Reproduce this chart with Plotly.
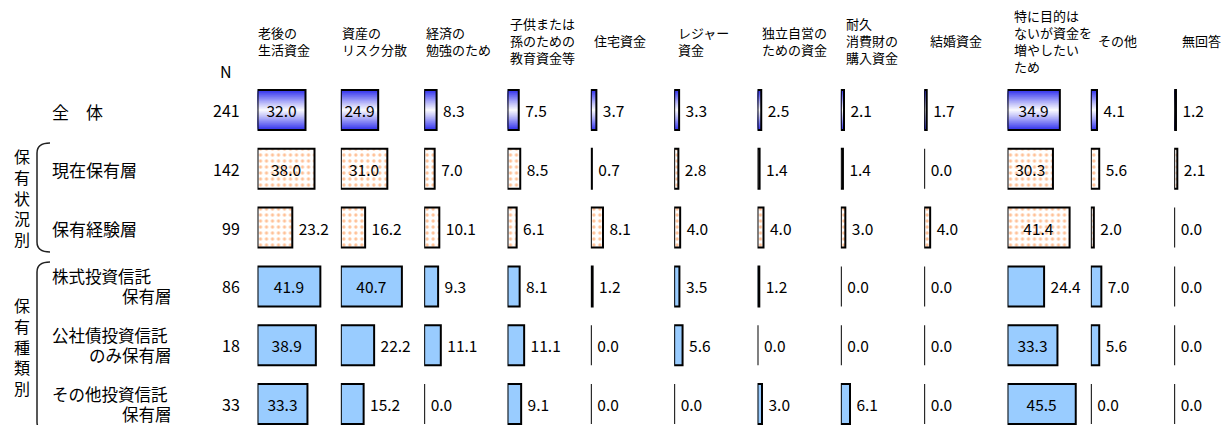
import plotly.graph_objects as go

# ---------------- data ----------------
categories = ["老後の\n生活資金", "資産の\nリスク分散", "経済の\n勉強のため", "子供または\n孫のための\n教育資金等",
              "住宅資金", "レジャー\n資金", "独立自営の\nための資金", "耐久\n消費財の\n購入資金",
              "結婚資金", "特に目的は\nないが資金を\n増やしたい\nため", "その他", "無回答"]
rows = ["全　体", "現在保有層", "保有経験層", "株式投資信託\n保有層", "公社債投資信託\nのみ保有層", "その他投資信託\n保有層"]
n_values = [241, 142, 99, 86, 18, 33]
groups = ["保有状況別", "保有種類別"]

v_total      = [32.0, 24.9, 8.3, 7.5, 3.7, 3.3, 2.5, 2.1, 1.7, 34.9, 4.1, 1.2]
v_current    = [38.0, 31.0, 7.0, 8.5, 0.7, 2.8, 1.4, 1.4, 0.0, 30.3, 5.6, 2.1]
v_experience = [23.2, 16.2, 10.1, 6.1, 8.1, 4.0, 4.0, 3.0, 4.0, 41.4, 2.0, 0.0]
v_stock      = [41.9, 40.7, 9.3, 8.1, 1.2, 3.5, 1.2, 0.0, 0.0, 24.4, 7.0, 0.0]
v_bond       = [38.9, 22.2, 11.1, 11.1, 0.0, 5.6, 0.0, 0.0, 0.0, 33.3, 5.6, 0.0]
v_other      = [33.3, 15.2, 0.0, 9.1, 0.0, 0.0, 3.0, 6.1, 0.0, 45.5, 0.0, 0.0]
values = [v_total, v_current, v_experience, v_stock, v_bond, v_other]

# ---------------- style / layout ----------------
W, H = 1228, 425
FONT = "Noto Sans CJK JP"
BLUE_GRAD = (51, 51, 238)
ORANGE = "#FF8533"
LIGHT_BLUE = "#99CCFF"
COL_LEFT0 = 257.5
COL_STEP = 83.333
PX_PER_UNIT = 1.5
PLOT_TOP = 80
ROW0 = 110
ROW_PITCH = 58.8
BAR_W = 0.68
K = 18
VAL_SIZE = 15.5
ROW_STYLE = ["gradient", "dots", "dots", "solid", "solid", "solid"]

def px(x):
    return x / W

def py(y):
    return 1 - y / H

fig = go.Figure()
layout_axes = {}
n_rows = len(rows)

def style_marker(style):
    if style == "gradient":
        return dict(color="rgba(0,0,0,0)", line=dict(color="black", width=2))
    if style == "dots":
        return dict(color="white", line=dict(color="black", width=2),
                    pattern=dict(shape=".", fgcolor=ORANGE, bgcolor="white", size=6, solidity=0.24))
    return dict(color=LIGHT_BLUE, line=dict(color="black", width=2))

for c in range(len(categories)):
    xa = "x" if c == 0 else f"x{c+1}"
    key = "xaxis" if c == 0 else f"xaxis{c+1}"
    left = COL_LEFT0 + COL_STEP * c
    right = min(left + COL_STEP, W)
    layout_axes[key] = dict(domain=[px(left), px(right)], range=[0, (right - left) / PX_PER_UNIT],
                            visible=False, anchor="y", fixedrange=True)
    col_vals = [values[r][c] for r in range(n_rows)]

    # nested bars giving a blue-white-blue vertical gradient for the 全体 row
    for k in range(K):
        frac = 1 - k / K
        t = frac ** 1.1
        r_ = int(255 + (BLUE_GRAD[0] - 255) * t)
        g_ = int(255 + (BLUE_GRAD[1] - 255) * t)
        b_ = int(255 + (BLUE_GRAD[2] - 255) * t)
        fig.add_trace(go.Bar(
            x=[col_vals[0]], y=[rows[0]], orientation="h", xaxis=xa, yaxis="y",
            width=BAR_W * frac,
            marker=dict(color=f"rgb({r_},{g_},{b_})", line=dict(width=0)),
            hoverinfo="skip", showlegend=False))

    for style in ["gradient", "dots", "solid"]:
        idx = [r for r in range(n_rows) if ROW_STYLE[r] == style]
        xs = [col_vals[r] for r in idx]
        ys = [rows[r] for r in idx]
        texts = [f"{v:.1f}" if v >= 24.5 else "\u00a0" + f"{v:.1f}" for v in xs]
        tpos = ["inside" if v >= 24.5 else "outside" for v in xs]
        fig.add_trace(go.Bar(
            x=xs, y=ys, orientation="h", xaxis=xa, yaxis="y", width=BAR_W,
            marker=style_marker(style),
            text=texts, textposition=tpos, insidetextanchor="middle", constraintext="none",
            textfont=dict(family=FONT, size=VAL_SIZE, color="black"),
            insidetextfont=dict(family=FONT, size=VAL_SIZE, color="black"),
            outsidetextfont=dict(family=FONT, size=VAL_SIZE, color="black"),
            cliponaxis=False, hoverinfo="skip", showlegend=False))

top_idx = (PLOT_TOP - ROW0) / ROW_PITCH
bot_idx = (H - ROW0) / ROW_PITCH

annotations = []
# column headers
for c, cat in enumerate(categories):
    annotations.append(dict(x=px(256 + 84 * c), y=py(41), xref="paper", yref="paper",
                            text=cat.replace("\n", "<br>"), showarrow=False, xanchor="left", yanchor="middle",
                            align="left", font=dict(family=FONT, size=13, color="black")))
annotations.append(dict(x=px(226), y=py(70.5), xref="paper", yref="paper", text="N", showarrow=False,
                        xanchor="center", yanchor="middle", font=dict(family=FONT, size=16, color="black")))
for r, n in enumerate(n_values):
    annotations.append(dict(x=px(242), y=r, xref="paper", yref="y", text=str(n), showarrow=False,
                            xanchor="right", yanchor="middle", font=dict(family=FONT, size=16, color="black")))
# row labels
for r, lab in enumerate(rows):
    parts = lab.split("\n")
    if len(parts) == 1:
        annotations.append(dict(x=px(50), y=r, xref="paper", yref="y", text=parts[0], showarrow=False,
                                xanchor="left", yanchor="middle", yshift=-1,
                                font=dict(family=FONT, size=17, color="black")))
    else:
        annotations.append(dict(x=px(50), y=r, xref="paper", yref="y", text=parts[0], showarrow=False,
                                xanchor="left", yanchor="middle", yshift=10,
                                font=dict(family=FONT, size=16.5, color="black")))
        annotations.append(dict(x=px(174), y=r, xref="paper", yref="y", text=parts[1], showarrow=False,
                                xanchor="right", yanchor="middle", yshift=-10,
                                font=dict(family=FONT, size=16.5, color="black")))
# group labels
for g, yc in zip(groups, [198, 346]):
    annotations.append(dict(x=px(21.5), y=py(yc), xref="paper", yref="paper", text="<br>".join(list(g)),
                            showarrow=False, xanchor="center", yanchor="middle",
                            font=dict(family=FONT, size=16, color="black")))

def bracket(y0, y1):
    return (f"M {px(50)},{py(y0)} Q {px(37)},{py(y0)} {px(37)},{py(y0 + 10)} "
            f"L {px(37)},{py(y1 - 10)} Q {px(37)},{py(y1)} {px(50)},{py(y1)}")

shapes = [dict(type="path", xref="paper", yref="paper", path=bracket(143, 252),
               line=dict(color="#222222", width=1.5)),
          dict(type="path", xref="paper", yref="paper", path=bracket(262, 432),
               line=dict(color="#222222", width=1.5))]

fig.update_layout(
    width=W, height=H, margin=dict(l=0, r=0, t=0, b=0),
    paper_bgcolor="white", plot_bgcolor="white", barmode="overlay", showlegend=False,
    yaxis=dict(type="category", categoryorder="array", categoryarray=rows,
               range=[bot_idx, top_idx], domain=[0, (H - PLOT_TOP) / H], visible=False, fixedrange=True),
    annotations=annotations, shapes=shapes, **layout_axes)

fig.write_html("out.html")
